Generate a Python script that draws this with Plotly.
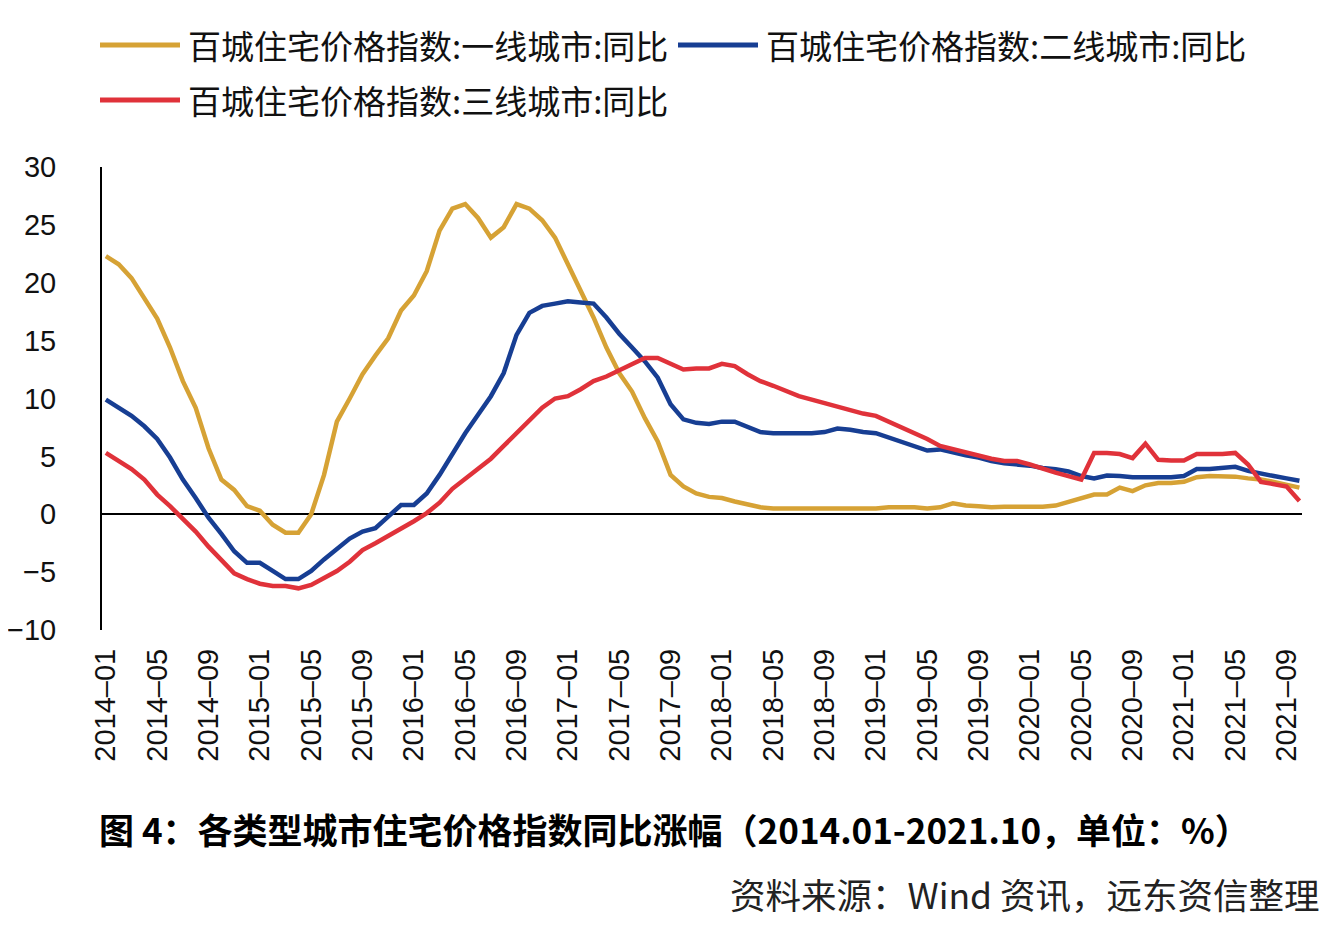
import plotly.graph_objects as go

# monthly categories 2014-01 .. 2021-10
months = [f"{y}-{m:02d}" for y in range(2014, 2022) for m in range(1, 13)][:94]
tick_vals = months[::4]
tick_text = [t.replace("-", "–") for t in tick_vals]

series_names = [
    "百城住宅价格指数:一线城市:同比",
    "百城住宅价格指数:二线城市:同比",
    "百城住宅价格指数:三线城市:同比",
]
series_colors = ["#D6A235", "#173E93", "#E0323A"]

tier1 = [
    22.3, 21.6, 20.4, 18.6, 16.9, 14.4, 11.5, 9.2, 5.7, 3.0,
    2.1, 0.7, 0.3, -0.9, -1.6, -1.6, 0.0, 3.4, 8.0, 10.0,
    12.1, 13.7, 15.2, 17.6, 18.9, 21.0, 24.5, 26.4, 26.8, 25.6,
    23.9, 24.8, 26.8, 26.4, 25.4, 23.9, 21.6, 19.5, 17.0, 14.4,
    12.2, 10.6, 8.3, 6.3, 3.4, 2.4, 1.8, 1.5, 1.4, 1.1,
    0.8, 0.6, 0.5, 0.5, 0.5, 0.5, 0.5, 0.5, 0.5, 0.5,
    0.5, 0.6, 0.6, 0.6, 0.5, 0.6, 0.95, 0.75, 0.7, 0.6,
    0.65, 0.65, 0.65, 0.65, 0.75, 1.05, 1.4, 1.7, 1.7, 2.3,
    2.0, 2.5, 2.7, 2.7, 2.8, 3.2, 3.3, 3.3, 3.25, 3.1,
    3.0, 2.8, 2.55, 2.3,
]
tier2 = [
    9.9, 9.2, 8.5, 7.6, 6.5, 4.9, 3.0, 1.4, -0.3, -1.7,
    -3.2, -4.2, -4.2, -4.9, -5.6, -5.6, -4.9, -3.9, -3.0, -2.1,
    -1.5, -1.2, -0.2, 0.8, 0.8, 1.8, 3.4, 5.2, 7.0, 8.6,
    10.2, 12.2, 15.5, 17.4, 18.0, 18.2, 18.4, 18.3, 18.2, 17.0,
    15.6, 14.4, 13.2, 11.8, 9.5, 8.2, 7.9, 7.8, 8.0, 8.0,
    7.5, 7.1, 7.0, 7.0, 7.0, 7.0, 7.1, 7.4, 7.3, 7.1,
    7.0, 6.6, 6.3, 5.9, 5.5, 5.6, 5.3, 5.1, 4.9, 4.6,
    4.4, 4.3, 4.2, 4.0, 3.9, 3.7, 3.3, 3.1, 3.35, 3.3,
    3.2, 3.2, 3.2, 3.2, 3.3, 3.9, 3.9, 4.0, 4.1, 3.75,
    3.5, 3.3, 3.1, 2.9,
]
tier3 = [
    5.3, 4.6, 3.9, 3.0, 1.7, 0.7, -0.4, -1.5, -2.8, -3.9,
    -5.1, -5.6, -6.0, -6.2, -6.2, -6.4, -6.1, -5.5, -4.9, -4.1,
    -3.1, -2.5, -1.9, -1.2, -0.6, 0.1, 1.0, 2.2, 3.1, 3.9,
    4.8, 5.9, 7.0, 8.2, 9.2, 10.0, 10.2, 10.8, 11.5, 11.9,
    12.4, 13.0, 13.5, 13.5, 13.0, 12.5, 12.6, 12.6, 13.0, 12.8,
    12.1, 11.5, 11.1, 10.6, 10.2, 9.9, 9.6, 9.2, 8.9, 8.7,
    8.5, 8.0, 7.5, 7.1, 6.5, 5.9, 5.6, 5.3, 5.1, 4.8,
    4.6, 4.6, 4.3, 3.9, 3.6, 3.3, 3.0, 5.3, 5.3, 5.2,
    4.85, 6.1, 4.7, 4.65, 4.65, 5.2, 5.2, 5.2, 5.3, 4.3,
    2.8, 2.6, 2.4, 1.15,
]

caption = "图 4：各类型城市住宅价格指数同比涨幅（2014.01-2021.10，单位：%）"
source = "资料来源：Wind 资讯，远东资信整理"

CJK = "Noto Sans CJK SC"
LATIN = "Arial, Liberation Sans, sans-serif"

# the page body has an 8px margin, so the figure is drawn 8px smaller/shifted
OFF = 8
W, H = 1340 - OFF, 932 - OFF
# plot area in page pixels
L, R, T, B = 102, 1302, 167, 630


def paper(x, y):
    return (x - L) / (R - L), (B - y) / (B - T)


fig = go.Figure()
for name, vals, col in zip(series_names, [tier1, tier2, tier3], series_colors):
    fig.add_trace(
        go.Scatter(x=months, y=vals, name=name, mode="lines",
                   line=dict(color=col, width=4.5), showlegend=False)
    )

# hand drawn legend (long line samples like the original)
legend_pos = [(100, 45), (678, 45), (100, 100)]
for (lx, ly), name, col in zip(legend_pos, series_names, series_colors):
    x0, y0 = paper(lx, ly)
    x1, _ = paper(lx + 80, ly)
    fig.add_shape(type="line", xref="paper", yref="paper", x0=x0, x1=x1, y0=y0, y1=y0,
                  line=dict(color=col, width=5))
    tx, _ = paper(lx + 86, ly)
    fig.add_annotation(xref="paper", yref="paper", x=tx, y=y0, text=name, showarrow=False,
                       xanchor="left", yanchor="middle",
                       font=dict(family=CJK, size=33, color="#111111"))

cx, cy = paper(97, 828)
fig.add_annotation(xref="paper", yref="paper", x=cx, y=cy, text="<b>" + caption + "</b>",
                   showarrow=False, xanchor="left", yanchor="middle",
                   font=dict(family=CJK, size=35, color="#000000"))
sx, sy = paper(1322, 893)
fig.add_annotation(xref="paper", yref="paper", x=sx, y=sy, text=source,
                   showarrow=False, xanchor="right", yanchor="middle",
                   font=dict(family=CJK, size=35.5, color="#222222"))

fig.update_layout(
    width=W,
    height=H,
    margin=dict(l=L - OFF, r=1340 - R, t=T - OFF, b=932 - B),
    paper_bgcolor="white",
    plot_bgcolor="white",
    xaxis=dict(
        type="category",
        range=[-0.3, 93.2],
        tickvals=tick_vals,
        ticktext=tick_text,
        tickangle=-90,
        showgrid=False,
        showline=False,
        zeroline=False,
        ticks="",
        automargin=False,
        ticklabelstandoff=12,
        tickfont=dict(family=LATIN, size=29, color="#111111"),
    ),
    yaxis=dict(
        range=[-10, 30],
        dtick=5,
        showgrid=False,
        showline=True,
        linecolor="black",
        linewidth=2,
        zeroline=True,
        zerolinecolor="black",
        zerolinewidth=2,
        ticks="",
        automargin=False,
        ticklabelstandoff=38,
        tickfont=dict(family=LATIN, size=29, color="#111111"),
    ),
)

fig.write_html("out.html")
